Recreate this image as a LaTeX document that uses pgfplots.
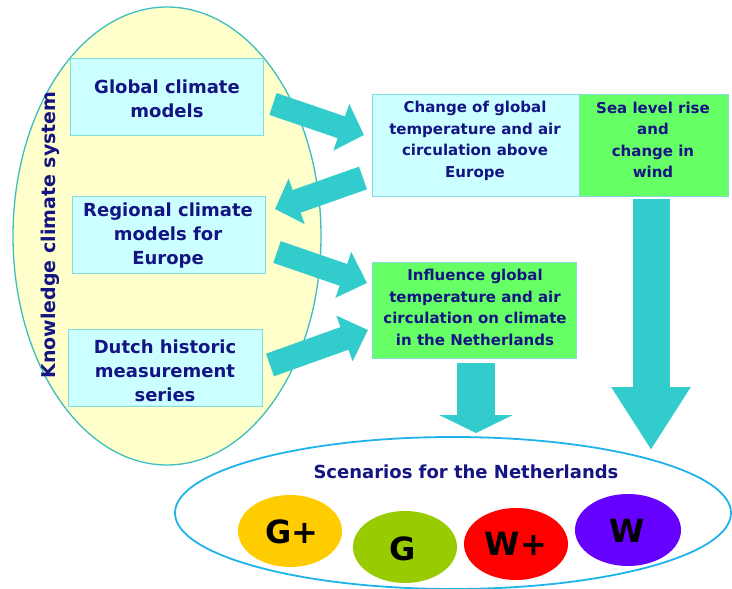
\documentclass[border=0pt]{standalone}
\usepackage{pgfplots}
\pgfplotsset{compat=1.18}
\usepackage{fontspec}
\setmainfont{DejaVu Sans}
\usetikzlibrary{arrows.meta}

\definecolor{navy}{RGB}{20,20,130}
\definecolor{kfill}{RGB}{255,255,204}
\definecolor{kborder}{RGB}{60,190,190}
\definecolor{boxfill}{RGB}{204,255,255}
\definecolor{boxborder}{RGB}{130,220,220}
\definecolor{boxgreen}{RGB}{102,255,102}
\definecolor{arrowc}{RGB}{51,204,204}
\definecolor{scenborder}{RGB}{30,180,235}
\definecolor{gplus}{RGB}{255,204,0}
\definecolor{gcol}{RGB}{153,204,0}
\definecolor{wplus}{RGB}{255,0,0}
\definecolor{wcol}{RGB}{102,0,255}

\newcommand{\bigbox}{\fontsize{18}{24}\selectfont\bfseries}
\newcommand{\smallbox}{\fontsize{15}{21.5}\selectfont\bfseries}
\newcommand{\scen}{\fontsize{32}{36}\selectfont\bfseries}

\begin{document}
\begin{tikzpicture}
\begin{axis}[
    width=732pt, height=589pt, scale only axis,
    xmin=0, xmax=732, ymin=0, ymax=589, y dir=reverse,
    hide axis, clip=false,
]
\coordinate (TL) at (axis cs:0,0);
\coordinate (BR) at (axis cs:732,589);
% knowledge ellipse and scenario ellipse
\draw[draw=kborder, fill=kfill, line width=1.3pt] (axis cs:167,236) ellipse [x radius=154, y radius=229];
\draw[draw=scenborder, fill=white, line width=1.8pt] (axis cs:453,513) ellipse [x radius=278, y radius=76];

% boxes
\addplot[draw=boxborder, fill=boxfill, line width=0.8pt] coordinates {(70,58) (263,58) (263,135) (70,135)} -- cycle;
\addplot[draw=boxborder, fill=boxfill, line width=0.8pt] coordinates {(72,196) (265,196) (265,273) (72,273)} -- cycle;
\addplot[draw=boxborder, fill=boxfill, line width=0.8pt] coordinates {(68,329) (262,329) (262,406) (68,406)} -- cycle;
\addplot[draw=boxborder, fill=boxfill, line width=0.8pt] coordinates {(372,94) (579,94) (579,196) (372,196)} -- cycle;
\addplot[draw=boxborder, fill=boxgreen, line width=0.8pt] coordinates {(579,94) (728,94) (728,196) (579,196)} -- cycle;
\addplot[draw=boxborder, fill=boxgreen, line width=0.8pt] coordinates {(372,262) (576,262) (576,358) (372,358)} -- cycle;

% arrows
\addplot[arrowc, line width=23pt, -{Triangle[width=48pt,length=24pt]}] coordinates {(273,104) (364,135)};
\addplot[arrowc, line width=24pt, -{Triangle[width=47pt,length=23pt]}] coordinates {(363,178) (275,209)};
\addplot[arrowc, line width=23pt, -{Triangle[width=47pt,length=25pt]}] coordinates {(277,252) (367,283)};
\addplot[arrowc, line width=24pt, -{Triangle[width=47pt,length=25pt]}] coordinates {(270,365) (368,330)};
\addplot[arrowc, line width=38pt, -{Triangle[width=73pt,length=18pt]}] coordinates {(476,363) (476,433)};
\addplot[arrowc, line width=37pt, -{Triangle[width=75pt,length=63pt]}] coordinates {(651,199) (651,450)};

% scenario ellipses
\draw[fill=gplus, draw=none] (axis cs:290,531) ellipse [x radius=52, y radius=36];
\draw[fill=gcol, draw=none] (axis cs:405,547) ellipse [x radius=52, y radius=36];
\draw[fill=wplus, draw=none] (axis cs:516,544) ellipse [x radius=52, y radius=36];
\draw[fill=wcol, draw=none] (axis cs:628,530) ellipse [x radius=53, y radius=36];

% texts
\node[text=navy, font=\fontsize{19}{22}\selectfont\bfseries, rotate=90] at (axis cs:50,235) {Knowledge climate system};
\node[text=navy, font=\bigbox, align=center] at (axis cs:167,98.5) {Global climate\\models};
\node[text=navy, font=\bigbox, align=center] at (axis cs:168,236) {Regional climate\\models for\\Europe};
\node[text=navy, font=\bigbox, align=center] at (axis cs:165,371) {Dutch historic\\measurement\\series};
\node[text=navy, font=\smallbox, align=center] at (axis cs:475,141) {Change of global\\temperature and air\\circulation above\\Europe};
\node[text=navy, font=\smallbox, align=center] at (axis cs:653,140) {Sea level rise\\and\\change in\\wind};
\node[text=navy, font=\smallbox, align=center] at (axis cs:475,307.5) {Influence global\\temperature and air\\circulation on climate\\in the Netherlands};
\node[text=navy, font=\bigbox] at (axis cs:466,472) {Scenarios for the Netherlands};
\node[font=\scen] at (axis cs:292,532) {G+};
\node[font=\scen] at (axis cs:403,549) {G};
\node[font=\scen] at (axis cs:516,544) {W+};
\node[font=\scen] at (axis cs:627,531) {W};
\end{axis}
\pgfresetboundingbox
\path (TL) rectangle (BR);
\end{tikzpicture}
\end{document}
